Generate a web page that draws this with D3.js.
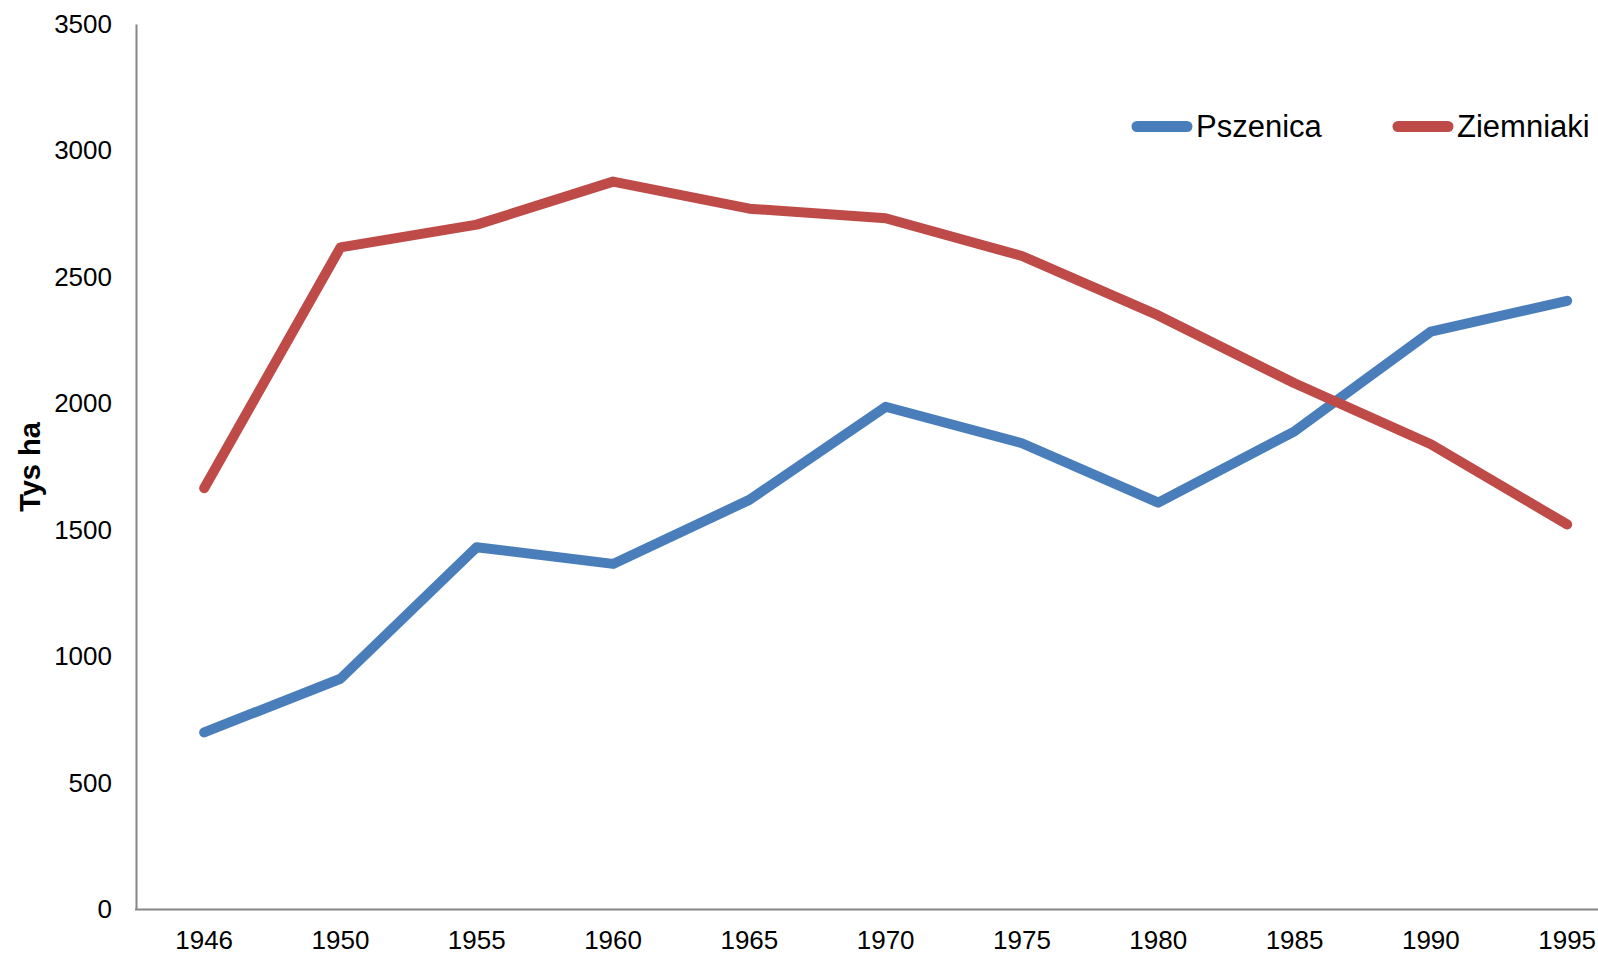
<!DOCTYPE html>
<html lang="pl">

<head>
  <meta charset="UTF-8">
  <title>Pszenica i ziemniaki</title>
  <script src="https://d3js.org/d3.v7.min.js"></script>
  <style>
    body { margin: 0; background: #fff; }
    text { font-family: Arial, "Liberation Sans", sans-serif; }
  </style>
</head>

<body>

  <svg width="1598" height="955" id="chart"></svg>

  <script>
    const years = ['1946', '1950', '1955', '1960', '1965', '1970', '1975', '1980', '1985', '1990', '1995'];
    const pszenica = [700, 912, 1432, 1366, 1619, 1987, 1843, 1608, 1890, 2284, 2406];
    const ziemniaki = [1665, 2617, 2707, 2877, 2770, 2732, 2583, 2348, 2080, 1839, 1522];
    const yTicks = [0, 500, 1000, 1500, 2000, 2500, 3000, 3500];

    const series = [
      { name: 'Pszenica', values: pszenica, color: '#4A7EBB' },
      { name: 'Ziemniaki', values: ziemniaki, color: '#BE4B48' },
    ];

    const svg = d3.select('#chart');
    const width = +svg.attr('width');

    const plotLeft = 136;
    const plotTop = 24;
    const plotBottom = 909.5;
    const step = 136.3;

    // kategorie - punkt w srodku kazdego pasma
    const xScale = d3.scaleBand()
      .domain(years)
      .range([plotLeft, plotLeft + step * years.length]);

    const yScale = d3.scaleLinear()
      .domain([0, 3500])
      .range([plotBottom, plotTop]);

    // os Y
    const yAxis = d3.axisLeft(yScale).tickValues(yTicks).tickFormat(d3.format('d'))
      .tickSize(0).tickPadding(24);
    const gy = svg.append('g').attr('transform', `translate(${plotLeft}, 0)`).call(yAxis);
    gy.select('.domain').attr('stroke', '#868686').attr('stroke-width', 2);
    gy.selectAll('.tick text').attr('font-size', 26).attr('fill', '#000')
      .attr('font-family', 'Arial, "Liberation Sans", sans-serif');

    // os X
    const xAxis = d3.axisBottom(xScale).tickSize(0).tickPadding(21);
    const gx = svg.append('g').attr('transform', `translate(0, ${plotBottom})`).call(xAxis);
    gx.select('.domain').remove();
    gx.append('line')
      .attr('x1', plotLeft - 1).attr('x2', width)
      .attr('stroke', '#868686').attr('stroke-width', 2);
    gx.selectAll('.tick text').attr('font-size', 26).attr('fill', '#000')
      .attr('font-family', 'Arial, "Liberation Sans", sans-serif');

    // tytul osi
    svg.append('text').text('Tys ha')
      .attr('transform', `translate(40, 467) rotate(-90)`)
      .attr('text-anchor', 'middle')
      .attr('font-size', 29)
      .attr('font-weight', 'bold');

    // linie
    const line = d3.line()
      .x((d, i) => xScale(years[i]) + xScale.bandwidth() / 2)
      .y(d => yScale(d));

    series.forEach(s => {
      svg.append('path')
        .attr('d', line(s.values))
        .attr('fill', 'none')
        .attr('stroke', s.color)
        .attr('stroke-width', 10)
        .attr('stroke-linejoin', 'round')
        .attr('stroke-linecap', 'round');
    });

    // legenda
    const legendX = [1137, 1398];
    series.forEach((s, i) => {
      const lg = svg.append('g').attr('transform', `translate(${legendX[i]}, 126.5)`);
      lg.append('line')
        .attr('x1', 0).attr('x2', 50)
        .attr('stroke', s.color)
        .attr('stroke-width', 11)
        .attr('stroke-linecap', 'round');
      lg.append('text').text(s.name)
        .attr('x', 59).attr('y', 10.5)
        .attr('font-size', 31);
    });
  </script>
</body>

</html>
